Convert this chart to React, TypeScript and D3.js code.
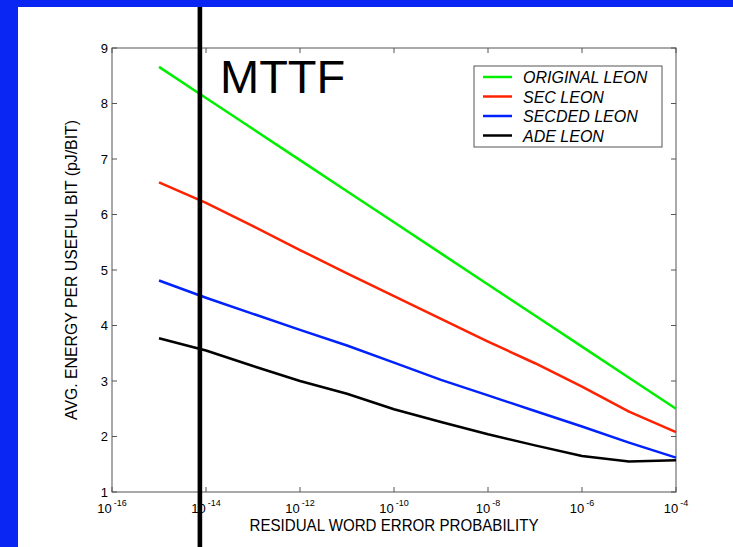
import React from 'react';
import * as d3 from 'd3';

// residual word error probability, as decade exponents
const exponents = [-15, -14, -13, -12, -11, -10, -9, -8, -7, -6, -5, -4];

// avg energy per useful bit (pJ/bit)
const originalLeon = [8.66, 8.1, 7.54, 6.98, 6.42, 5.86, 5.3, 4.74, 4.18, 3.62, 3.06, 2.5];
const secLeon = [6.58, 6.21, 5.79, 5.36, 4.94, 4.53, 4.12, 3.71, 3.32, 2.9, 2.45, 2.08];
const secdedLeon = [4.81, 4.5, 4.21, 3.92, 3.64, 3.33, 3.02, 2.74, 2.46, 2.18, 1.89, 1.62];
const adeLeon = [3.77, 3.55, 3.27, 3.0, 2.77, 2.49, 2.26, 2.04, 1.84, 1.65, 1.55, 1.57];

const seriesNames = ['ORIGINAL LEON', 'SEC LEON', 'SECDED LEON', 'ADE LEON'];
const seriesColors = ['#00ee00', '#ff2200', '#0022ff', '#000000'];

const xTickExponents = [-16, -14, -12, -10, -8, -6, -4];
const yTicks = [1, 2, 3, 4, 5, 6, 7, 8, 9];

// where the MTTF marker sits on the x axis
const mttfExponent = -14.13;

const W = 733;
const H = 547;
const margin = {left: 112, right: 57, top: 48, bottom: 55};
const FONT = '"Liberation Sans", Arial, Helvetica, sans-serif';
const AXIS = '#555';

export default function App() {
  const x = d3
    .scaleLog()
    .domain([1e-16, 1e-4])
    .range([margin.left, W - margin.right]);
  const y = d3
    .scaleLinear()
    .domain([1, 9])
    .range([H - margin.bottom, margin.top]);

  const allSeries = [originalLeon, secLeon, secdedLeon, adeLeon];
  const line = d3
    .line<number>()
    .x((_, i) => x(Math.pow(10, exponents[i])))
    .y(d => y(d));

  const [x0, x1] = x.range();
  const [yb, yt] = y.range();
  const tick = 5;
  const mttfX = x(Math.pow(10, mttfExponent));

  return (
    <svg
      width={W}
      height={H}
      style={{position: 'absolute', left: 0, top: 0, fontFamily: FONT}}
    >
      <rect x={0} y={0} width={W} height={H} fill="#0a26f2" />
      <rect x={18} y={7} width={W - 18} height={H - 7} fill="#ffffff" />

      {/* axes box */}
      <rect
        x={x0}
        y={yt}
        width={x1 - x0}
        height={yb - yt}
        fill="none"
        stroke={AXIS}
        strokeWidth={1}
      />

      {xTickExponents.map(e => {
        const px = x(Math.pow(10, e));
        return (
          <g key={e}>
            <line x1={px} x2={px} y1={yb} y2={yb - tick} stroke={AXIS} />
            <line x1={px} x2={px} y1={yt} y2={yt + tick} stroke={AXIS} />
            <text x={px} y={513} textAnchor="middle" fontSize={13} fill="#000">
              10
              <tspan dx={2} dy={-7} fontSize={9}>
                {String(e)}
              </tspan>
            </text>
          </g>
        );
      })}

      {yTicks.map(v => {
        const py = y(v);
        return (
          <g key={v}>
            <line x1={x0} x2={x0 + tick} y1={py} y2={py} stroke={AXIS} />
            <line x1={x1} x2={x1 - tick} y1={py} y2={py} stroke={AXIS} />
            <text x={x0 - 4} y={py + 4.5} textAnchor="end" fontSize={13} fill="#000">
              {v}
            </text>
          </g>
        );
      })}

      <text
        x={(x0 + x1) / 2}
        y={530.5}
        textAnchor="middle"
        fontSize={17}
        textLength={289}
        lengthAdjust="spacingAndGlyphs"
        fill="#000"
      >
        RESIDUAL WORD ERROR PROBABILITY
      </text>
      <text
        transform={`translate(76.5,${(yt + yb) / 2}) rotate(-90)`}
        textAnchor="middle"
        fontSize={17}
        textLength={300}
        lengthAdjust="spacingAndGlyphs"
        fill="#000"
      >
        AVG. ENERGY PER USEFUL BIT (pJ/BIT)
      </text>

      {allSeries.map((s, i) => (
        <path
          key={seriesNames[i]}
          d={line(s) || ''}
          fill="none"
          stroke={seriesColors[i]}
          strokeWidth={2.5}
          strokeLinejoin="round"
        />
      ))}

      {/* legend */}
      <g>
        <rect x={474} y={66} width={188} height={81} fill="#fff" stroke={AXIS} />
        {seriesNames.map((name, i) => (
          <g key={name} transform={`translate(0,${77 + i * 19.5})`}>
            <line x1={483} x2={512} y1={0} y2={0} stroke={seriesColors[i]} strokeWidth={2.5} />
            <text x={523} y={6} fontSize={16} fontStyle="italic" fill="#000">
              {name}
            </text>
          </g>
        ))}
      </g>

      {/* MTTF marker */}
      <line x1={mttfX} x2={mttfX} y1={7} y2={H} stroke="#000" strokeWidth={4.6} />
      <text x={220} y={93} fontSize={47} fill="#000">
        MTTF
      </text>
    </svg>
  );
}
